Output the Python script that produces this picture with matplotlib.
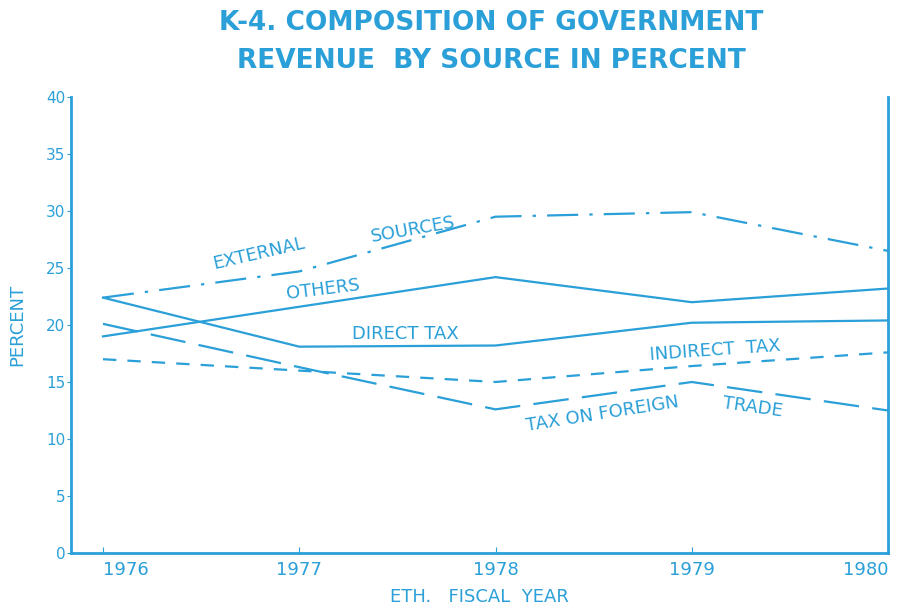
import matplotlib.pyplot as plt

# Government revenue composition, Ethiopian fiscal years
years = [1976, 1977, 1978, 1979, 1980]
external_sources = [22.4, 24.7, 29.5, 29.9, 26.5]
others = [19.0, 21.6, 24.2, 22.0, 23.2]
direct_tax = [22.4, 18.1, 18.2, 20.2, 20.4]
indirect_tax = [17.0, 16.0, 15.0, 16.4, 17.6]
foreign_trade = [20.1, 16.3, 12.6, 15.0, 12.5]
year_labels = ['1976', '1977', '1978', '1979', '1980']

blue = '#2a9fd8'
plt.rcParams['font.family'] = ['DejaVu Sans']

fig = plt.figure(figsize=(9.01, 6.12), dpi=100)
ax = fig.add_axes([0.0788, 0.0964, 0.9068, 0.7451])

ax.plot(years, external_sources, color=blue, lw=1.6, dashes=(14, 5, 1.5, 5))
ax.plot(years, others, color=blue, lw=1.6)
ax.plot(years, direct_tax, color=blue, lw=1.6)
ax.plot(years, indirect_tax, color=blue, lw=1.6, dashes=(6, 5))
ax.plot(years, foreign_trade, color=blue, lw=1.6, dashes=(16, 6))

ax.set_xlim(1975.837, 1980)
ax.set_ylim(0, 40)
ax.set_xticks(years)
ax.set_xticklabels(year_labels)
ax.set_yticks(range(0, 41, 5))
ax.tick_params(axis='x', direction='in', length=4, colors=blue, labelsize=13, pad=6)
ax.tick_params(axis='y', direction='out', length=3, colors=blue, labelsize=11, pad=1)
xlabs = ax.get_xticklabels()
xlabs[0].set_horizontalalignment('left')
xlabs[-1].set_horizontalalignment('right')

for side in ['left', 'right', 'bottom']:
    ax.spines[side].set_color(blue)
    ax.spines[side].set_linewidth(2)
ax.spines['top'].set_visible(False)

txt = dict(color=blue, fontsize=13)
ax.text(1976.55, 24.9, 'EXTERNAL', rotation=13, **txt)
ax.text(1977.36, 27.3, 'SOURCES', rotation=10, **txt)
ax.text(1976.93, 22.3, 'OTHERS', rotation=7, **txt)
ax.text(1977.27, 18.8, 'DIRECT TAX', **txt)
ax.text(1978.78, 16.9, 'INDIRECT  TAX', rotation=4, **txt)
ax.text(1978.15, 10.7, 'TAX ON FOREIGN', rotation=9, **txt)
ax.text(1979.15, 12.0, 'TRADE', rotation=-8, **txt)

ax.set_xlabel('ETH.   FISCAL  YEAR', color=blue, fontsize=13, labelpad=6)
ax.set_ylabel('PERCENT', color=blue, fontsize=13, labelpad=14)

fig.text(0.545, 0.962, 'K-4. COMPOSITION OF GOVERNMENT', ha='center', va='center',
         color=blue, fontsize=19, fontweight='bold')
fig.text(0.545, 0.901, 'REVENUE  BY SOURCE IN PERCENT', ha='center', va='center',
         color=blue, fontsize=19, fontweight='bold')

fig.savefig('out.png', dpi=100)
